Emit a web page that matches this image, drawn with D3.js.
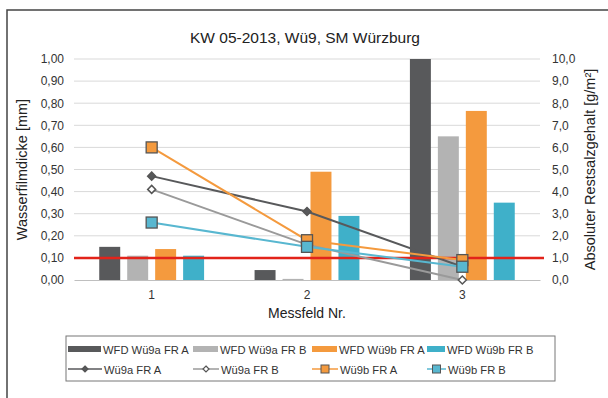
<!DOCTYPE html>
<html><head><meta charset="utf-8">
<script src="https://cdn.jsdelivr.net/npm/d3@7"></script>
<style>body{margin:0;background:#fff;}svg{display:block;font-family:"Liberation Sans",Arial,sans-serif;}</style>
</head><body>
<svg id="c" width="608" height="398"></svg>
<script>
const categories = ["1","2","3"];
const barSeries = ["WFD Wü9a FR A","WFD Wü9a FR B","WFD Wü9b FR A","WFD Wü9b FR B"];
const barColors = ["#58595b","#b3b3b3","#f49a3e","#3fb0c9"];
const barWFD_9aA = [0.15, 0.045, 1.00];
const barWFD_9aB = [0.11, 0.005, 0.65];
const barWFD_9bA = [0.14, 0.49, 0.765];
const barWFD_9bB = [0.11, 0.29, 0.35];
const lineSeries = ["Wü9a FR A","Wü9a FR B","Wü9b FR A","Wü9b FR B"];
const lineColors = ["#58595b","#9a9a9a","#f49a3e","#58b7d0"];
const lineMarkers = ["diamond","diamond","square","square"];
const line9aA = [4.7, 3.1, 0.6];
const line9aB = [4.1, 1.6, 0.0];
const line9bA = [6.0, 1.8, 0.9];
const line9bB = [2.6, 1.5, 0.6];
const leftTicks = [0,0.1,0.2,0.3,0.4,0.5,0.6,0.7,0.8,0.9,1.0];
const rightTicks = [0,1,2,3,4,5,6,7,8,9,10];
const limitValue = 0.10;

const barData = [barWFD_9aA, barWFD_9aB, barWFD_9bA, barWFD_9bB];
const lineData = [line9aA, line9aB, line9bA, line9bB];

const svg = d3.select("#c");
const L = 74, R = 540, T = 59, B = 280;

svg.append("path").attr("d","M7,398V10H608").attr("fill","none").attr("stroke","#444").attr("stroke-width",1.5);

const yL = d3.scaleLinear().domain([0,1]).range([B,T]);
const yR = d3.scaleLinear().domain([0,10]).range([B,T]);
const x0 = d3.scaleBand().domain(categories).range([L,R]).paddingInner(0.28).paddingOuter(0.14);
const x1 = d3.scaleBand().domain(barSeries).range([0,x0.bandwidth()]).paddingInner(0.25).paddingOuter(0.125);
const fmtL = v => d3.format(".2f")(v).replace(".",",");
const fmtR = v => d3.format(".1f")(v).replace(".",",");

svg.append("g").selectAll("line").data(leftTicks.slice(1)).join("line")
  .attr("x1",L).attr("x2",R).attr("y1",d=>yL(d)).attr("y2",d=>yL(d))
  .attr("stroke","#d9d9d9").attr("stroke-width",1);

const gl = svg.append("g").attr("transform",`translate(${L},0)`)
  .call(d3.axisLeft(yL).tickValues(leftTicks).tickFormat(fmtL).tickSize(0).tickPadding(10));
gl.select(".domain").remove();
gl.selectAll("text").attr("font-size",12).attr("fill","#333").attr("font-family","Liberation Sans, Arial");
const gr = svg.append("g").attr("transform",`translate(${R},0)`)
  .call(d3.axisRight(yR).tickValues(rightTicks).tickFormat(fmtR).tickSize(0).tickPadding(12));
gr.select(".domain").remove();
gr.selectAll("text").attr("font-size",12).attr("fill","#333").attr("font-family","Liberation Sans, Arial");
const gx = svg.append("g").attr("transform",`translate(0,${B})`)
  .call(d3.axisBottom(x0).tickSize(0).tickPadding(10));
gx.select(".domain").attr("stroke","#bfbfbf");
gx.selectAll("text").attr("font-size",12).attr("fill","#333").attr("font-family","Liberation Sans, Arial");

barSeries.forEach((s,i)=>{
  svg.append("g").selectAll("rect").data(barData[i]).join("rect")
    .attr("x",(d,j)=>x0(categories[j])+x1(s))
    .attr("width",x1.bandwidth())
    .attr("y",d=>yL(d)).attr("height",d=>B-yL(d))
    .attr("fill",barColors[i]);
});

svg.append("line").attr("x1",L).attr("x2",R+4).attr("y1",yL(limitValue)).attr("y2",yL(limitValue))
  .attr("stroke","#e2231a").attr("stroke-width",2.5);

const cx = c => x0(c)+x0.bandwidth()/2;
function marker(g, type, x, y, color){
  if(type==="diamond"){
    g.append("path").attr("d",`M${x},${y-4}L${x+4},${y}L${x},${y+4}L${x-4},${y}Z`)
      .attr("fill",color==="#58595b"?"#58595b":"#fff").attr("stroke","#555").attr("stroke-width",1.5);
  } else {
    g.append("rect").attr("x",x-5.5).attr("y",y-5.5).attr("width",11).attr("height",11)
      .attr("fill",color).attr("stroke","#555").attr("stroke-width",1.3);
  }
}
lineSeries.forEach((s,i)=>{
  const g = svg.append("g");
  const line = d3.line().x((d,j)=>cx(categories[j])).y(d=>yR(d));
  g.append("path").datum(lineData[i]).attr("d",line).attr("fill","none")
    .attr("stroke",lineColors[i]).attr("stroke-width",2);
  lineData[i].forEach((d,j)=>marker(g,lineMarkers[i],cx(categories[j]),yR(d),lineColors[i]));
});

svg.append("text").attr("x",305).attr("y",43).attr("text-anchor","middle")
  .attr("font-size",15.5).attr("fill","#222").text("KW 05-2013, Wü9, SM Würzburg");
svg.append("text").attr("transform",`translate(27,${(T+B)/2}) rotate(-90)`).attr("text-anchor","middle")
  .attr("font-size",14.5).attr("fill","#222").text("Wasserfilmdicke [mm]");
svg.append("text").attr("transform",`translate(595,${(T+B)/2}) rotate(-90)`).attr("text-anchor","middle")
  .attr("font-size",14.5).attr("fill","#222").text("Absoluter Restsalzgehalt [g/m²]");
svg.append("text").attr("x",(L+R)/2).attr("y",318).attr("text-anchor","middle")
  .attr("font-size",14).attr("fill","#222").text("Messfeld Nr.");

svg.append("rect").attr("x",66).attr("y",336).attr("width",489).attr("height",45)
  .attr("fill","#fff").attr("stroke","#777").attr("stroke-width",1);
const colX = [68,193,312,427];
const swW = [33,25,25,18];
barSeries.forEach((s,i)=>{
  const g = svg.append("g");
  g.append("rect").attr("x",colX[i]).attr("y",346).attr("width",swW[i]).attr("height",6).attr("fill",barColors[i]);
  g.append("text").attr("x",colX[i]+swW[i]+2).attr("y",353.5).attr("font-size",11.2).attr("fill","#333").text(s);
});
lineSeries.forEach((s,i)=>{
  const g = svg.append("g");
  const lx = colX[i], lw = swW[i]+1;
  g.append("line").attr("x1",lx).attr("x2",lx+lw).attr("y1",369).attr("y2",369).attr("stroke",lineColors[i]).attr("stroke-width",1.5);
  if(lineMarkers[i]==="diamond"){
    g.append("path").attr("d",`M${lx+lw/2},${366}L${lx+lw/2+3},369L${lx+lw/2},372L${lx+lw/2-3},369Z`)
      .attr("fill",i===0?"#58595b":"#fff").attr("stroke","#555").attr("stroke-width",1.2);
  } else {
    g.append("rect").attr("x",lx+lw/2-4).attr("y",365).attr("width",8).attr("height",8)
      .attr("fill",lineColors[i]).attr("stroke","#555").attr("stroke-width",1);
  }
  g.append("text").attr("x",lx+lw+2).attr("y",373.5).attr("font-size",11.2).attr("fill","#333").text(s);
});
</script>
</body></html>
